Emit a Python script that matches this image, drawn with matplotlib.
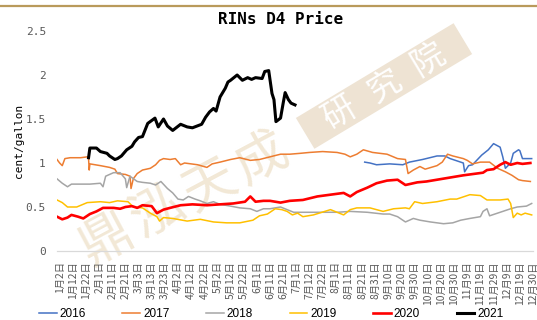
import numpy as np
import matplotlib
matplotlib.use("Agg")
import matplotlib.pyplot as plt
from matplotlib.lines import Line2D
from matplotlib.patches import Rectangle
from matplotlib.transforms import Affine2D

# x is the day index along the year (0 = first trading day shown)
d2016=[234,238,243,253,263,268,278,289,295,299,309,310,313,316,323,328,332,337,339,341,345,347,351,352,354,361]
v2016=[1.01,1.00,0.98,0.99,0.98,1.01,1.04,1.08,1.08,1.05,1.00,0.90,0.97,0.98,1.09,1.15,1.22,1.18,1.07,0.94,1.00,1.11,1.15,1.14,1.05,1.05]

d2017=[0,2,4,6,10,18,23,24,24.5,25,29,33,40,44,46,52,55.5,56.3,58,61,65,71,75,78,81,86,90,94,97,107,114,118,124,132,139,147,154,162,170,177,185,192,202,213,219,223,228,233,240,251,259,265,267,271,276,280,289,293,297,301,309,312,316,322,329,335,341,346,351,354,360]
v2017=[1.04,1.00,0.97,1.05,1.06,1.06,1.07,1.05,0.92,0.99,0.98,0.97,0.95,0.93,0.88,0.87,0.85,0.71,0.82,0.88,0.92,0.94,0.98,1.03,1.05,1.04,1.05,0.98,1.00,0.98,0.95,0.99,1.01,1.04,1.06,1.03,1.04,1.07,1.10,1.10,1.11,1.12,1.13,1.12,1.10,1.07,1.10,1.15,1.12,1.10,1.05,1.04,0.88,0.92,0.96,0.93,0.97,1.01,1.10,1.08,1.05,1.03,0.99,1.01,1.01,0.94,0.90,0.86,0.81,0.80,0.79]

d2018=[0,4,8,11,18,25,33,35,37,43,48,52,53,55.5,61,65,71,75,79,84,88,92,96,100,105,109,114,119,124,132,139,147,152,157,162,170,175,180,192,213,223,236,248,253,259,265,271,276,284,294,301,307,314,322,324,327,329,335,339,345,350,357,361]
v2018=[0.82,0.77,0.73,0.76,0.76,0.76,0.77,0.73,0.85,0.89,0.89,0.82,0.72,0.85,0.79,0.78,0.77,0.75,0.79,0.71,0.66,0.59,0.58,0.62,0.59,0.57,0.54,0.56,0.53,0.51,0.49,0.48,0.45,0.48,0.48,0.50,0.47,0.44,0.44,0.44,0.45,0.44,0.42,0.42,0.39,0.33,0.37,0.35,0.33,0.31,0.32,0.35,0.37,0.39,0.45,0.48,0.40,0.43,0.45,0.48,0.50,0.51,0.54]

d2019=[0,4,8,15,23,33,40,46,54,58,65,71,76,78,81,88,99,109,119,129,139,149,154,160,166,171,175,179,183,187,195,208,213,218,223,228,238,248,256,265,268,272,278,289,299,304,314,322,327,337,343,345,347,350,353,356,361]
v2019=[0.58,0.55,0.50,0.50,0.55,0.56,0.55,0.57,0.56,0.50,0.49,0.43,0.39,0.34,0.38,0.37,0.34,0.36,0.33,0.32,0.32,0.35,0.40,0.42,0.48,0.47,0.45,0.41,0.43,0.39,0.41,0.47,0.44,0.41,0.47,0.49,0.49,0.45,0.48,0.49,0.48,0.56,0.54,0.56,0.59,0.59,0.64,0.63,0.58,0.58,0.59,0.54,0.38,0.43,0.41,0.43,0.41]

d2020=[0,4,8,11,16,20,25,30,35,43,48,52,57,61,65,72,76,81,86,94,103,114,124,134,143,147,151,157,162,170,177,187,198,208,218,223,228,236,243,251,259,265,274,281,289,297,309,319,324,327,332,337,341,345,350,354,360]
v2020=[0.39,0.36,0.38,0.41,0.39,0.37,0.42,0.45,0.49,0.49,0.48,0.50,0.51,0.49,0.52,0.51,0.43,0.47,0.49,0.52,0.53,0.52,0.53,0.54,0.56,0.62,0.56,0.57,0.57,0.55,0.57,0.58,0.62,0.64,0.66,0.62,0.67,0.72,0.77,0.80,0.81,0.75,0.78,0.79,0.81,0.83,0.86,0.88,0.89,0.92,0.93,0.98,1.01,0.98,1.00,0.99,1.00]

d2021=[24,25,30,33,38,40,44,46,49,53,57,59,62,65,69,74.5,77,81,84,88,94,99,103,110,113,116,119,121,124,128,130,132,137,141,145,148,151,156,158,161,163.5,165,166.5,170,172,173.5,176,178,181]
v2021=[1.06,1.17,1.17,1.13,1.11,1.08,1.04,1.05,1.08,1.15,1.19,1.24,1.29,1.30,1.45,1.51,1.41,1.50,1.42,1.37,1.44,1.41,1.40,1.44,1.52,1.58,1.62,1.59,1.75,1.85,1.92,1.94,2.00,1.94,1.97,1.95,1.97,1.96,2.04,2.05,1.79,1.72,1.47,1.51,1.68,1.80,1.72,1.68,1.66]

years=['2016','2017','2018','2019','2020','2021']
colors=['#4472C4','#ED7D31','#A5A5A5','#FFC000','#FF0000','#000000']
widths=[1.1,1.1,1.1,1.1,1.9,2.2]

ticklab=['1月2日','1月12日','1月22日','2月1日','2月11日','2月21日','3月3日','3月13日','3月23日',
         '4月2日','4月12日','4月22日','5月2日','5月12日','5月22日','6月1日','6月11日','6月21日',
         '7月1日','7月12日','7月22日','8月1日','8月11日','8月21日','8月31日','9月10日','9月20日',
         '9月30日','10月10日','10月20日','10月30日','11月9日','11月19日','11月29日','12月9日',
         '12月19日','12月30日']
tickpos=[2+10*i for i in range(len(ticklab))]

mono='DejaVu Sans Mono'
cjk='Noto Sans CJK SC'
grey='#595959'
W,H=537,320

f0=plt.figure(figsize=(W/100,H/100),dpi=100)
ax0=f0.add_axes([57/W,69/H,476/W,220/H])
ax0.patch.set_alpha(0)

# watermark, pixel coords from bottom-left, drawn behind the axes
px=Affine2D().scale(1/100)+f0.dpi_scale_trans
for i0,ch in enumerate('鼎泓天成'):
    cx=107+i0*58*np.cos(np.radians(28)); cy=(H-240)+i0*58*np.sin(np.radians(28))
    f0.text(cx,cy,ch,transform=px,rotation=28,fontsize=38,color='#f2e8d6',
            family=cjk,ha='center',va='center',zorder=-3)

bx,by,ang=384,H-86,31
box=Rectangle((bx-92,by-18),184,36,facecolor='#eee3d3',edgecolor='none',zorder=-2,
              transform=Affine2D().rotate_deg_around(bx,by,ang)+px)
f0.add_artist(box)
for i0,ch in enumerate('研究院'):
    cx=bx+(i0-1)*52*np.cos(np.radians(ang)); cy=by+(i0-1)*52*np.sin(np.radians(ang))
    f0.text(cx,cy,ch,transform=px,rotation=ang,fontsize=24,color='white',
            family=cjk,ha='center',va='center',zorder=-1)

data=[(d2016,v2016),(d2017,v2017),(d2018,v2018),(d2019,v2019),(d2020,v2020),(d2021,v2021)]
for i0 in range(len(data)):
    ax0.plot(data[i0][0],data[i0][1],color=colors[i0],lw=widths[i0],label=years[i0])

ax0.set_xlim(0,362)
ax0.set_ylim(0,2.5)
ax0.set_yticks([0,0.5,1,1.5,2,2.5])
ax0.set_yticklabels(['0','0.5','1','1.5','2','2.5'],family=mono,fontsize=8,color=grey)
ax0.set_xticks(tickpos)
ax0.set_xticklabels(ticklab,rotation=90,family=cjk,fontsize=7.4,color=grey)
ax0.tick_params(axis='x',length=0,pad=7.5)
ax0.tick_params(axis='y',length=0,pad=8)
for s in ['top','right','left']:
    ax0.spines[s].set_visible(False)
ax0.spines['bottom'].set_color('#d9d9d9')
ax0.spines['bottom'].set_linewidth(0.9)

ax0.set_ylabel('cent/gallon',family=mono,fontsize=8,color='black',labelpad=1)
f0.text(281/W,1-20/H,'RINs D4 Price',family=mono,fontweight='bold',fontsize=11.5,
        ha='center',va='center')

# gold rule along the top
f0.add_artist(Line2D([0,1],[1-5.5/H,1-5.5/H],color='#B99A5B',lw=1.6))

lines=ax0.get_lines()
f0.legend(lines,years,loc='center',bbox_to_anchor=(0.505,1-314/H),ncol=6,frameon=False,
          prop={'family':'Liberation Sans','size':8.5},handlelength=1.5,handletextpad=0.25,
          columnspacing=3.1,borderpad=0)

f0.savefig('out.png',dpi=100)
